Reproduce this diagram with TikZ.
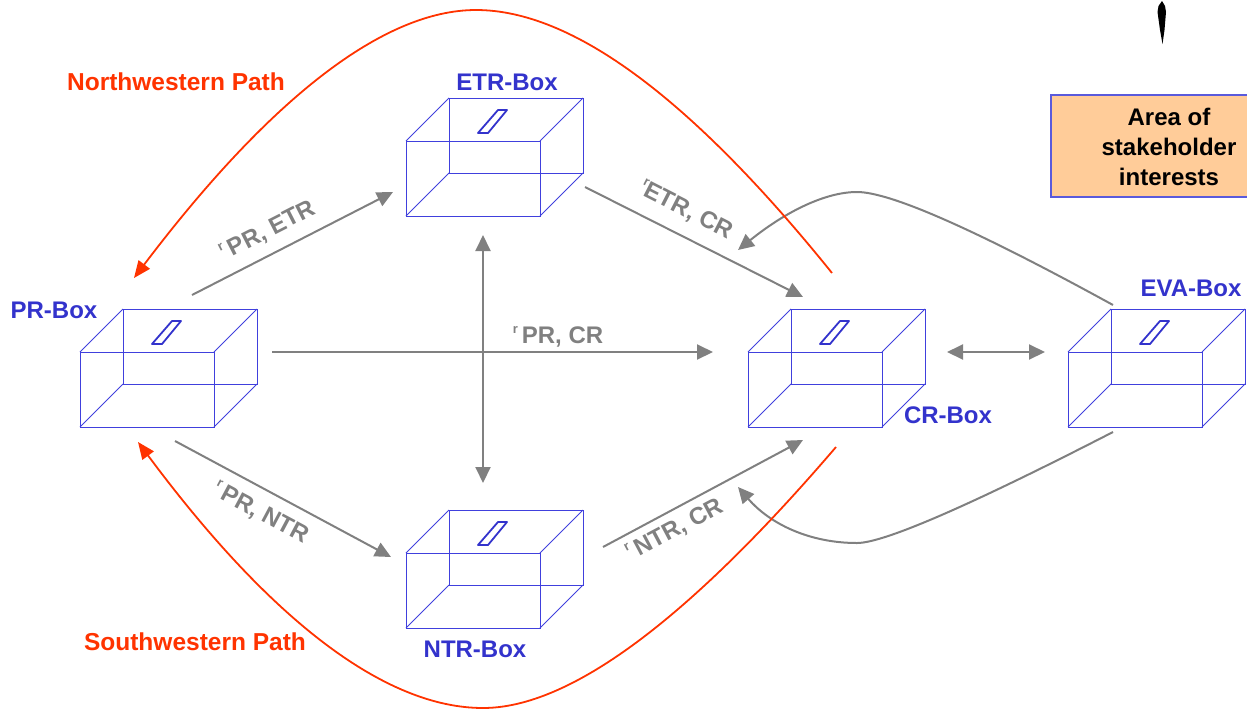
\documentclass[tikz,border=0pt]{standalone}
\usepackage{fontspec}
\setmainfont{Liberation Sans}
\usetikzlibrary{arrows.meta}
\definecolor{boxblue}{RGB}{64,64,221}
\definecolor{slotblue}{RGB}{51,51,204}
\definecolor{labelblue}{RGB}{51,51,204}
\definecolor{pathred}{RGB}{255,51,0}
\definecolor{flowgray}{RGB}{128,128,128}
\definecolor{areafill}{RGB}{255,204,153}
\definecolor{areaborder}{RGB}{90,90,220}
\tikzset{
  boxline/.style={draw=boxblue, line width=1pt},
  slotline/.style={draw=slotblue, line width=1.8pt, line join=round},
  flow/.style={draw=flowgray, line width=2pt, -{Triangle[length=16pt,width=15pt]}},
  twoway/.style={draw=flowgray, line width=2pt, {Triangle[length=16pt,width=15pt]}-{Triangle[length=16pt,width=15pt]}},
  pathline/.style={draw=pathred, line width=1.8pt, -{Triangle[length=17pt,width=14pt]}},
  boxlabel/.style={text=labelblue, font=\bfseries\fontsize{24}{28}\selectfont, inner sep=0pt},
  pathlabel/.style={text=pathred, font=\bfseries\fontsize{24.5}{28}\selectfont, inner sep=0pt},
  flowlabel/.style={text=flowgray, font=\bfseries\fontsize{24}{28}\selectfont, inner sep=0pt},
  areabox/.style={draw=areaborder, fill=areafill, line width=2pt},
  arealabel/.style={text=black, font=\bfseries\fontsize{24}{30}\selectfont, align=center, inner sep=0pt},
  holder/.style={inner sep=0pt, minimum width=177pt, minimum height=118pt}
}
\newcommand{\smallr}{\raisebox{0.42em}{\fontsize{13}{13}\selectfont r}}
\newcommand{\ballotbox}[3]{%
  \begin{scope}[shift={(#2,#3)}]
    \draw[boxline] (0,0) rectangle (134,75);
    \draw[boxline] (43,-43) rectangle (177,32);
    \draw[boxline] (0,0)--(43,-43) (134,0)--(177,-43) (134,75)--(177,32) (0,75)--(43,32);
    \draw[slotline] (72,-8)--(82,-8)--(101,-31)--(92,-31)--cycle;
    \node[holder] (#1) at (88.5,16) {};
  \end{scope}}
\begin{document}
\begin{tikzpicture}[x=1pt,y=-1pt]
\useasboundingbox (0,0) rectangle (1247,710);

% area of stakeholder interests
\draw[areabox] (1051,95) rectangle (1252,197);
\node[arealabel] (area) at (1169,147) {Area of\\stakeholder\\interests};

% pointer
\fill[black] (1162,1) -- (1165,6) -- (1166,12) -- (1164.5,30) -- (1162.5,44) -- (1160,30) -- (1157.5,12) -- (1158.5,6) -- cycle;

% boxes
\ballotbox{pr}{80}{352}
\ballotbox{etr}{406}{141}
\ballotbox{cr}{748}{352}
\ballotbox{eva}{1068}{352}
\ballotbox{ntr}{406}{553}

% box labels
\node[boxlabel] (prl) at (54,310) {PR-Box};
\node[boxlabel] (etrl) at (507,82) {ETR-Box};
\node[boxlabel] (crl) at (948,415) {CR-Box};
\node[boxlabel] (eval) at (1191,288) {EVA-Box};
\node[boxlabel] (ntrl) at (475,649) {NTR-Box};

% path labels
\node[pathlabel] (nw) at (176,82) {Northwestern Path};
\node[pathlabel] (sw) at (195,642) {Southwestern Path};

% connector end points
\coordinate (a1) at (192,295); \coordinate (a2) at (393,192);
\coordinate (b1) at (272,352); \coordinate (b2) at (713,352);
\coordinate (c1) at (175,441); \coordinate (c2) at (391,557);
\coordinate (d1) at (585,187); \coordinate (d2) at (803,297);
\coordinate (e1) at (603,547); \coordinate (e2) at (803,440);
\coordinate (f1) at (483,235); \coordinate (f2) at (483,483);
\coordinate (g1) at (947,352); \coordinate (g2) at (1045,352);
\coordinate (h1) at (1113,305); \coordinate (hm) at (857,192); \coordinate (h2) at (738,250);
\coordinate (k1) at (1113,432); \coordinate (km) at (857,543); \coordinate (k2) at (738,487);
\coordinate (n1) at (832,273); \coordinate (nm) at (476,10); \coordinate (n2) at (134,278);
\coordinate (s1) at (836,447); \coordinate (sm) at (483,708); \coordinate (s2) at (138,442);

% gray flows
\draw[flow] (a1) -- (a2);
\draw[flow] (b1) -- (b2);
\draw[flow] (c1) -- (c2);
\draw[flow] (d1) -- (d2);
\draw[flow] (e1) -- (e2);
\draw[twoway] (f1) -- (f2);
\draw[twoway] (g1) -- (g2);
\draw[flow] (h1) .. controls (975.7,229.7) and (890.3,192) .. (hm) .. controls (825.7,192) and (786,211.3) .. (h2);
\draw[flow] (k1) .. controls (969,506) and (883.7,543) .. (km) .. controls (810,543) and (770.3,524.3) .. (k2);

% red paths
\draw[pathline] (n1) .. controls (690.7,97.7) and (572,10) .. (nm) .. controls (383.3,10) and (269.3,99.3) .. (n2);
\draw[pathline] (s1) .. controls (687,621) and (569.3,708) .. (sm) .. controls (384.7,708) and (269.7,619.3) .. (s2);

% flow labels
\node[flowlabel, rotate=27] (lpe) at (268,231) {\smallr\,PR, ETR};
\node[flowlabel] (lpc) at (558,337) {\smallr\,PR, CR};
\node[flowlabel, rotate=-28] (lpn) at (261,513) {\smallr\,PR, NTR};
\node[flowlabel, rotate=-27] (lec) at (686,210) {\smallr ETR, CR};
\node[flowlabel, rotate=28] (lnc) at (675,530) {\smallr\,NTR, CR};
\end{tikzpicture}
\end{document}
